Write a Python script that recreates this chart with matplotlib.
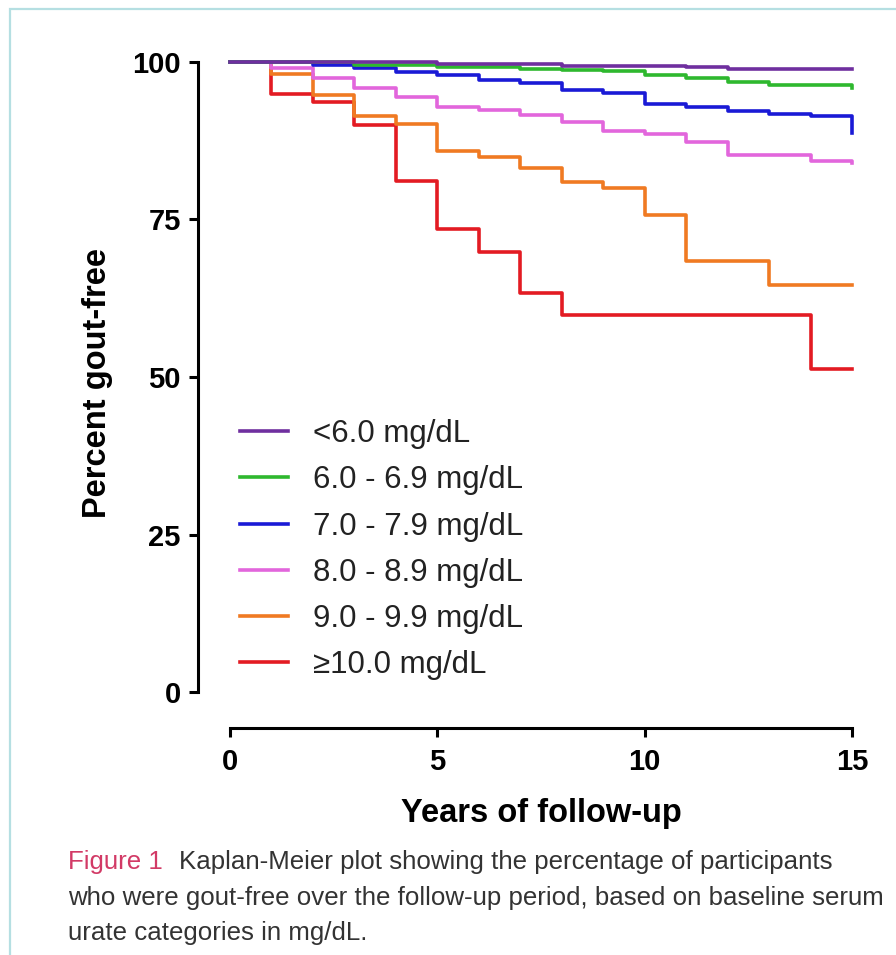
import matplotlib
matplotlib.use("Agg")
import matplotlib.pyplot as plt
from matplotlib.patches import Rectangle

# Kaplan-Meier step data (years, percent gout-free)
labels = ["<6.0 mg/dL", "6.0 - 6.9 mg/dL", "7.0 - 7.9 mg/dL",
          "8.0 - 8.9 mg/dL", "9.0 - 9.9 mg/dL", "\u226510.0 mg/dL"]
colors = ["#6f2f9f", "#2eb82e", "#1a1ad6", "#e266dc", "#f07a22", "#e31b23"]

t_lt6 = [0, 5, 8, 11, 12, 15]
s_lt6 = [100, 99.7, 99.4, 99.2, 98.9, 98.9]

t_6 = [0, 3, 5, 7, 8, 9, 10, 11, 12, 13, 15]
s_6 = [100, 99.6, 99.2, 98.9, 98.7, 98.5, 98.0, 97.5, 96.8, 96.3, 95.8]

t_7 = [0, 2, 3, 4, 5, 6, 7, 8, 9, 10, 11, 12, 13, 14, 15]
s_7 = [100, 99.6, 99.0, 98.4, 98.0, 97.1, 96.6, 95.6, 95.0, 93.4, 92.8, 92.2, 91.7, 91.5, 88.7]

t_8 = [0, 1, 2, 3, 4, 5, 6, 7, 8, 9, 10, 11, 12, 14, 15]
s_8 = [100, 99.0, 97.4, 95.8, 94.5, 92.9, 92.4, 91.6, 90.5, 89.0, 88.6, 87.3, 85.2, 84.3, 84.0]

t_9 = [0, 1, 2, 3, 4, 5, 6, 7, 8, 9, 10, 11, 13, 15]
s_9 = [100, 98.1, 94.8, 91.4, 90.2, 85.8, 84.9, 83.1, 81.0, 80.0, 75.7, 68.4, 64.6, 64.6]

t_10 = [0, 1, 2, 3, 4, 5, 6, 7, 8, 14, 15]
s_10 = [100, 94.9, 93.7, 90.0, 81.1, 73.5, 69.8, 63.4, 59.8, 51.3, 51.3]

times = [t_lt6, t_6, t_7, t_8, t_9, t_10]
survs = [s_lt6, s_6, s_7, s_8, s_9, s_10]

W, H = 896, 955
fig = plt.figure(figsize=(W / 100, H / 100), dpi=100)
ax = fig.add_axes([230 / W, 1 - 692 / H, (852 - 230) / W, (692 - 62) / H])

lines = []
for i in range(len(labels) - 1, -1, -1):
    ln, = ax.step(times[i], survs[i], where="post", color=colors[i],
                  lw=2.6, clip_on=False, label=labels[i], zorder=3 + (5 - i))
    lines.append(ln)
lines = lines[::-1]

ax.set_xlim(0, 15)
ax.set_ylim(0, 100)
for s in ["top", "right"]:
    ax.spines[s].set_visible(False)
ax.spines["left"].set_position(("outward", 23))
ax.spines["bottom"].set_position(("outward", 26))
ax.spines["left"].set_bounds(0, 100)
ax.spines["bottom"].set_bounds(0, 15)
for s in ["left", "bottom"]:
    ax.spines[s].set_linewidth(2.2)

ax.set_xticks([0, 5, 10, 15])
ax.set_yticks([0, 25, 50, 75, 100])
ax.tick_params(axis="both", width=2.2, length=6.5, labelsize=21, color="black")
ax.tick_params(axis="y", pad=6)
ax.tick_params(axis="x", pad=8)
for lab in ax.get_xticklabels() + ax.get_yticklabels():
    lab.set_fontfamily("Liberation Sans")
    lab.set_fontweight("bold")

ax.set_xlabel("Years of follow-up", fontsize=23.5, fontweight="bold",
              family="Liberation Sans", labelpad=16)
ax.set_ylabel("Percent gout-free", fontsize=23.5, fontweight="bold",
              family="Liberation Sans", labelpad=14)
ax.yaxis.label.set_y(0.49)

leg = ax.legend(handles=lines, labels=labels, loc="upper left",
                bbox_to_anchor=(240 / W, 1 - 419 / H),
                bbox_transform=fig.transFigure, frameon=False,
                prop={"family": ["Liberation Sans", "DejaVu Sans"], "size": 22.5},
                handlelength=1.54, handletextpad=0.8, labelspacing=0.52,
                borderpad=0, borderaxespad=0)
for txt in leg.get_texts():
    txt.set_color("#222222")

# caption
cap_font = ["Liberation Sans Narrow", "Liberation Sans", "DejaVu Sans"]
cap_size = 18.6
t1 = fig.text(68 / W, 1 - 862 / H, "Figure 1", color="#d23a66", fontsize=cap_size,
              family=cap_font, va="center", ha="left")
fig.canvas.draw()
bb = t1.get_window_extent()
fig.text((bb.x1 + 16) / W, 1 - 862 / H,
         "Kaplan-Meier plot showing the percentage of participants",
         color="#333333", fontsize=cap_size, family=cap_font, va="center", ha="left")
fig.text(68 / W, 1 - 898 / H,
         "who were gout-free over the follow-up period, based on baseline serum",
         color="#333333", fontsize=cap_size, family=cap_font, va="center", ha="left")
fig.text(68 / W, 1 - 933 / H, "urate categories in mg/dL.",
         color="#333333", fontsize=cap_size, family=cap_font, va="center", ha="left")

# light frame around the figure panel
fig.patches.append(Rectangle((10 / W, -0.05), 1.2, 1 - 9 / H + 0.05,
                             transform=fig.transFigure, fill=False,
                             edgecolor="#b5dfe2", lw=1.6))

fig.savefig("out.png", dpi=100)
